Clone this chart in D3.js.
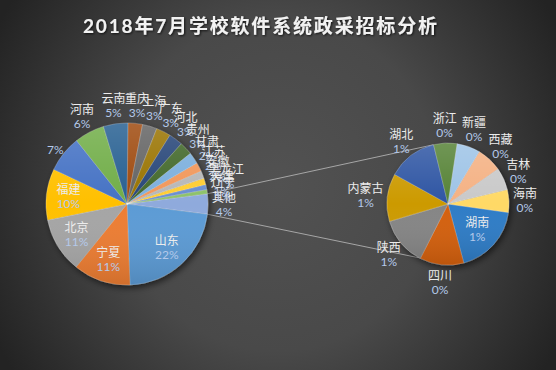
<!doctype html>
<html lang="zh">
<head>
<meta charset="utf-8">
<title>2018年7月学校软件系统政采招标分析</title>
<style>
  body { margin: 0; background: #2b2b2b; }
  svg { display: block; font-family: Lato, "Noto Sans CJK SC", sans-serif; }
</style>
</head>
<body>
<script src="https://d3js.org/d3.v7.min.js"></script>
<script>

// ---- data (percent of total) ----
var mainNames  = ["山东","宁夏","北京","福建","","河南","云南","重庆","上海","广东","河北","贵州","甘肃","江苏","安徽","黑龙江","天津","辽宁"];
var mainValues = [22.4, 11.4, 11.0, 10.2, 7.3, 6.0, 4.9, 2.87, 2.9, 2.9, 2.8, 2.6, 2.3, 1.8, 1.5, 1.3, 1.0, 0.8];

var subNames  = ["湖南","四川","陕西","内蒙古","湖北","浙江","新疆","西藏","吉林","海南"];
var subValues = [0.75, 0.47, 0.52, 0.51, 0.53, 0.25, 0.25, 0.27, 0.24, 0.24];

var otherName = "其他";

// ---- styles ----
var mainColors = ["#5b9bd5","#ed7d31","#a5a5a5","#ffc000","#4472c4","#70ad47","#255e91","#9e480e","#636363",
                  "#997300","#264478","#43682b","#7cafdd","#f1975a","#b7b7b7","#ffcd33","#698ed0","#8cc168"];
var subColors  = ["#2f7cc6","#d4600f","#858585","#cc9a06","#2d55a3","#548235","#9dc3e6","#f4b183","#c9c9c9","#ffd966"];
var otherColor = "#8faadc";
var insideLabels = ["山东","宁夏","北京","福建","湖南"];

var W = 556, H = 370;
var main = {cx: 127, cy: 204, r: 81};
var sub  = {cx: 448, cy: 204, r: 61};

var svg = d3.select("body").append("svg")
  .attr("width", W)
  .attr("height", H);

var defs = svg.append("defs");

var bg = defs.append("radialGradient")
  .attr("id", "bg")
  .attr("cx", 0.5).attr("cy", 0.5).attr("r", 0.5)
  .attr("gradientTransform", "translate(0.5 0.5) scale(1.15 1.8) translate(-0.5 -0.5)");
bg.append("stop").attr("offset", "0%").attr("stop-color", "#525252");
bg.append("stop").attr("offset", "50%").attr("stop-color", "#494949");
bg.append("stop").attr("offset", "100%").attr("stop-color", "#232323");

var shine = defs.append("linearGradient")
  .attr("id", "shine")
  .attr("x1", 0).attr("y1", 0).attr("x2", 0).attr("y2", 1);
shine.append("stop").attr("offset", "0%").attr("stop-color", "#fff").attr("stop-opacity", 0.16);
shine.append("stop").attr("offset", "50%").attr("stop-color", "#fff").attr("stop-opacity", 0);
shine.append("stop").attr("offset", "100%").attr("stop-color", "#000").attr("stop-opacity", 0.12);

defs.append("filter").attr("id", "shadow")
  .attr("x", "-20%").attr("y", "-20%").attr("width", "140%").attr("height", "140%")
  .append("feDropShadow")
  .attr("dx", 2).attr("dy", 3).attr("stdDeviation", 3)
  .attr("flood-color", "#000").attr("flood-opacity", 0.55);

defs.append("filter").attr("id", "tshadow")
  .append("feDropShadow")
  .attr("dx", 1).attr("dy", 1).attr("stdDeviation", 1)
  .attr("flood-color", "#000").attr("flood-opacity", 0.7);

svg.append("rect")
  .attr("width", W)
  .attr("height", H)
  .attr("fill", "url(#bg)");

// title
svg.append("text")
  .attr("x", 260)
  .attr("y", 25)
  .attr("text-anchor", "middle")
  .attr("dominant-baseline", "central")
  .attr("font-size", "19px")
  .attr("font-weight", "bold")
  .attr("fill", "#f2f2f2")
  .attr("textLength", 354)
  .attr("lengthAdjust", "spacing")
  .attr("filter", "url(#tshadow)")
  .text("2018年7月学校软件系统政采招标分析");

// ---- layout ----
var otherValue = d3.sum(subValues);
var total = d3.sum(mainValues) + otherValue;
var fmt = d3.format(".0%");
var deg = Math.PI / 180;

var mainData = [{name: otherName, value: otherValue, color: otherColor}]
  .concat(mainNames.map(function (n, i) {
    return {name: n, value: mainValues[i], color: mainColors[i]};
  }));
var subData = subNames.map(function (n, i) {
  return {name: n, value: subValues[i], color: subColors[i]};
});

var otherAngle = otherValue / total * 2 * Math.PI;
var mainStart = Math.PI / 2 - otherAngle / 2;

var mainArcs = d3.pie().sort(null).value(function (d) { return d.value; })
  .startAngle(mainStart).endAngle(mainStart + 2 * Math.PI)(mainData);

var subStart = 98 * deg;
var subArcs = d3.pie().sort(null).value(function (d) { return d.value; })
  .startAngle(subStart).endAngle(subStart + 2 * Math.PI)(subData);

function pt(p, rr, a) {
  return [p.cx + rr * Math.sin(a), p.cy - rr * Math.cos(a)];
}

// series lines
var o = mainArcs[0];
var lines = [
  [pt(main, main.r, o.startAngle), pt(sub, sub.r, 346 * deg)],
  [pt(main, main.r, o.endAngle), pt(sub, sub.r, 208 * deg)]
];
svg.selectAll(".series-line")
  .data(lines)
  .join("line")
  .attr("class", "series-line")
  .attr("x1", function (d) { return d[0][0]; })
  .attr("y1", function (d) { return d[0][1]; })
  .attr("x2", function (d) { return d[1][0]; })
  .attr("y2", function (d) { return d[1][1]; })
  .attr("stroke", "#a6a6a6")
  .attr("stroke-width", 1);

function drawPie(p, arcs) {
  var g = svg.append("g")
    .attr("transform", "translate(" + p.cx + "," + p.cy + ")");
  var slices = g.append("g").attr("filter", "url(#shadow)");
  slices.selectAll("path")
    .data(arcs)
    .join("path")
    .attr("d", d3.arc().innerRadius(0).outerRadius(p.r))
    .attr("fill", function (d) { return d.data.color; })
    .attr("stroke", "rgba(255,255,255,0.3)")
    .attr("stroke-width", 0.7);
  g.append("circle")
    .attr("r", p.r)
    .attr("fill", "url(#shine)");
}

function drawLabels(p, arcs) {
  var g = svg.append("g");
  arcs.forEach(function (a) {
    var mid = (a.startAngle + a.endAngle) / 2,
        s = Math.sin(mid), c = Math.cos(mid);
    var name = a.data.name,
        pct = fmt(a.data.value / total);
    var x, y;
    if (insideLabels.indexOf(name) >= 0) {
      x = p.cx + (p.r - 22) * s;
      y = p.cy - (p.r - 22) * c;
    } else {
      var w = Math.max(name.length * 12, pct.length * 6.5);
      x = p.cx + (p.r + 4) * s + s * w / 2;
      y = p.cy - (p.r + 4) * c - c * 14;
    }
    g.append("text")
      .attr("x", x).attr("y", y - 7)
      .attr("text-anchor", "middle")
      .attr("dominant-baseline", "central")
      .attr("font-size", "12px")
      .attr("fill", "#ececec")
      .text(name);
    g.append("text")
      .attr("x", x).attr("y", y + 7)
      .attr("text-anchor", "middle")
      .attr("dominant-baseline", "central")
      .attr("font-size", "12px")
      .attr("fill", "#b4c9ea")
      .text(pct);
  });
}

drawPie(main, mainArcs);
drawPie(sub, subArcs);
drawLabels(main, mainArcs);
drawLabels(sub, subArcs);

</script>
</body>
</html>
